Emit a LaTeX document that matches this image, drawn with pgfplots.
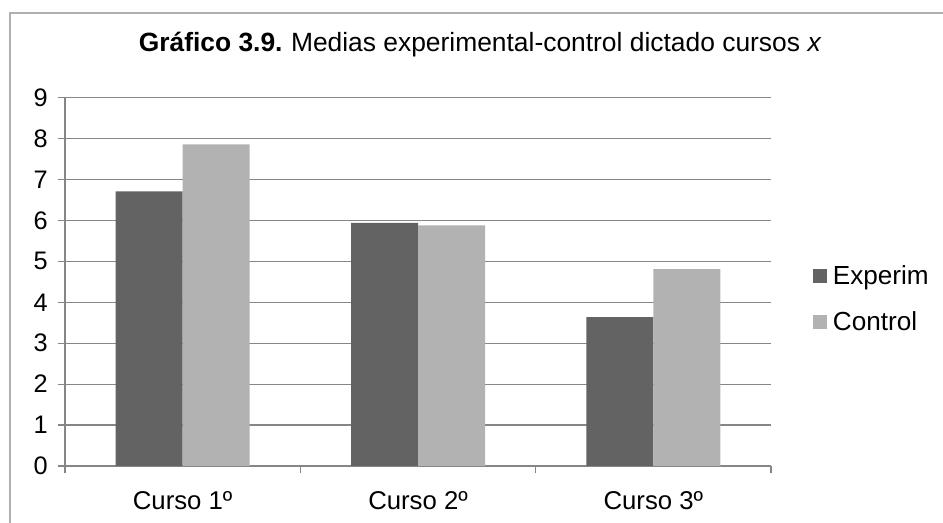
\documentclass[border=0pt]{standalone}
\usepackage{pgfplots}
\pgfplotsset{compat=1.18}
\usepackage{fontspec}
\setmainfont{Liberation Sans}

\definecolor{experim}{RGB}{99,99,99}
\definecolor{control}{RGB}{178,178,178}
\definecolor{gridgray}{RGB}{134,134,134}
\definecolor{framegray}{RGB}{176,176,176}

\begin{document}
\begin{tikzpicture}
\useasboundingbox (0pt,0pt) rectangle (707.25pt,392.25pt);
\clip (0pt,0pt) rectangle (707.25pt,392.25pt);
% chart frame (runs off the right and bottom edges)
\draw[framegray, line width=0.9pt] (7.5pt,-20pt) -- (7.5pt,382.5pt) -- (730pt,382.5pt);

\begin{axis}[
    at={(48.75pt,42.75pt)}, anchor=south west,
    scale only axis,
    width=529.5pt, height=276.2pt,
    ybar=0pt, bar width=50.25pt,
    xmin=-0.5, xmax=2.5,
    ymin=0, ymax=9,
    xtick={0,1,2},
    xticklabels={Curso 1º, Curso 2º, Curso 3º},
    minor xtick={-0.5,0.5,1.5,2.5},
    ytick={0,...,9},
    axis x line*=bottom, axis y line*=left,
    axis line style={gridgray, line width=0.9pt, -},
    major x tick style={draw=none},
    minor x tick style={gridgray, line width=0.9pt},
    major y tick style={gridgray, line width=0.9pt},
    tick align=outside,
    major tick length=5.5pt, minor tick length=5.5pt,
    ymajorgrids,
    major grid style={gridgray, line width=0.9pt},
    tick label style={font=\fontsize{19}{21}\selectfont},
    x tick label style={font=\fontsize{19.3}{21}\selectfont, yshift=-10pt},
    y tick label style={xshift=-4pt},
    /pgf/number format/assume math mode=true,
    title={\textbf{Gráfico 3.9.}\hspace{-1pt} Medias experimental-control dictado cursos \textit{x}},
    title style={font=\fontsize{19.8}{22}\selectfont, at={(axis description cs:0.588,1.104)}, anchor=base},
    legend style={draw=none, fill=none, at={(axis description cs:1.059,0.453)}, anchor=west,
        font=\fontsize{19.6}{22}\selectfont, inner sep=0pt, row sep=15pt,
        nodes={inner xsep=0pt}},
    legend cell align=left,
    legend image code/.code={\fill[#1,draw=none] (0pt,-5.25pt) rectangle (10.5pt,5.25pt);},
    /tikz/every odd column/.append style={column sep=4.5pt},
]
\addplot[fill=experim, draw=none] coordinates {(0,6.71) (1,5.94) (2,3.64)};
\addplot[fill=control, draw=none] coordinates {(0,7.86) (1,5.88) (2,4.81)};
\legend{Experim, Control}
\end{axis}
\end{tikzpicture}
\end{document}
